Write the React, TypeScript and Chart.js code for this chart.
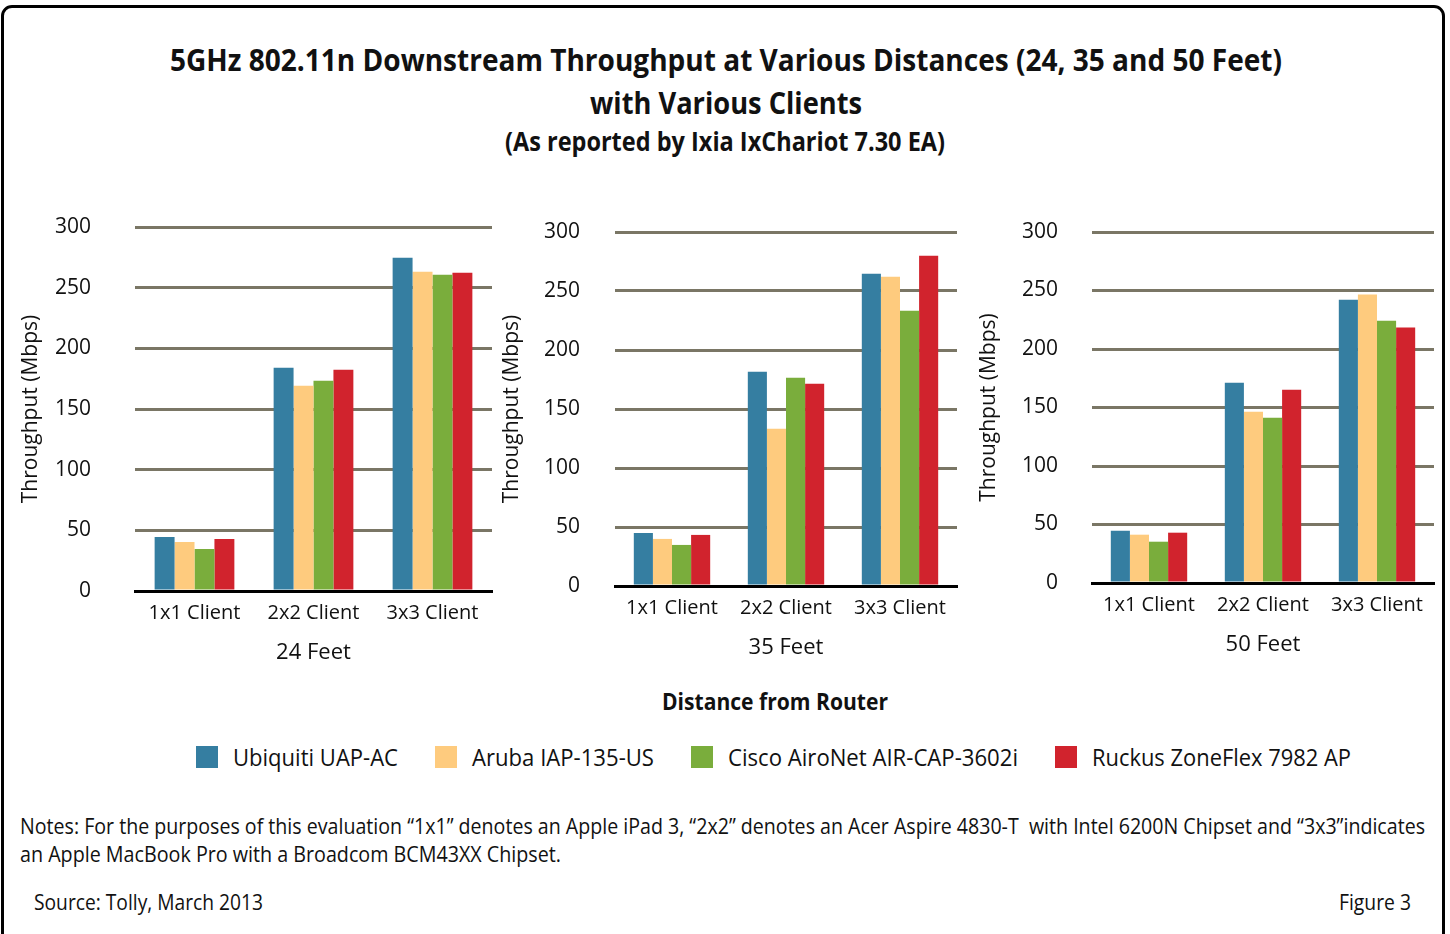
import React, { useEffect, useLayoutEffect, useRef } from "react";
import { Chart, registerables } from "chart.js";

Chart.register(...registerables);

// ---------- data ----------
const categories = ["1x1 Client", "2x2 Client", "3x3 Client"];
const seriesNames = ["Ubiquiti UAP-AC", "Aruba IAP-135-US", "Cisco AiroNet AIR-CAP-3602i", "Ruckus ZoneFlex 7982 AP"];
const seriesColors = ["#357ea1", "#fecb7e", "#7aad3c", "#d1232d"];
const yTicks = [0, 50, 100, 150, 200, 250, 300];

const ubiquiti24 = [44.5, 183.9, 274.7];
const aruba24 = [40.4, 169.1, 263.1];
const cisco24 = [34.6, 173.2, 260.6];
const ruckus24 = [42.9, 182.3, 262.3];

const ubiquiti35 = [44.9, 181.5, 264.6];
const aruba35 = [39.9, 133.2, 262.1];
const cisco35 = [34.8, 176.4, 233.3];
const ruckus35 = [43.3, 171.3, 279.9];

const ubiquiti50 = [44.7, 171.2, 242.2];
const aruba50 = [41.3, 146.4, 246.5];
const cisco50 = [35.3, 141.3, 224.2];
const ruckus50 = [43.0, 165.2, 218.3];

const FONT = "'Open Sans', 'Noto Sans', sans-serif";
const TEXT = "#111";

type PanelProps = {
  values: number[][];
  xTitle: string;
  x0: number; x1: number; yTop: number; yBottom: number;
  titleCenterY: number;
  tickPad: number;
  yTitlePad: number;
  labelPad: number;
};

function Panel(p: PanelProps) {
  const ref = useRef<HTMLCanvasElement>(null);
  const left = p.x0 - 125;
  const top = p.yTop - 30;
  const right = p.x1 + 12;
  const bottom = Math.round(p.titleCenterY + 13.2);
  const width = right - left;
  const height = bottom - top;
  useEffect(() => {
    if (!ref.current) return;
    const chart = new Chart(ref.current, {
      type: "bar",
      data: {
        labels: categories,
        datasets: p.values.map((v, i) => ({
          label: seriesNames[i],
          data: v,
          backgroundColor: seriesColors[i],
          borderWidth: 0,
          barPercentage: 1,
          categoryPercentage: 0.67,
        })),
      },
      options: {
        animation: false,
        responsive: false,
        maintainAspectRatio: false,
        layout: { padding: { top: 30, right: 12, left: 0, bottom: 0 } },
        plugins: { legend: { display: false }, tooltip: { enabled: false }, title: { display: false } },
        scales: {
          x: {
            grid: { display: false, drawTicks: false },
            border: { display: true, color: "#000", width: 3 },
            ticks: { color: TEXT, font: { family: FONT, size: 20 }, padding: p.labelPad, maxRotation: 0 },
            title: { display: true, text: p.xTitle, color: TEXT, font: { family: FONT, size: 22 }, padding: 0 },
            afterFit: (s: any) => { s.height = bottom - p.yBottom; s.paddingLeft = 0; s.paddingRight = 0; },
          },
          y: {
            min: 0, max: 300,
            afterBuildTicks: (s: any) => { s.ticks = yTicks.map((v) => ({ value: v })); },
            grid: { color: "#7a7665", lineWidth: 3, drawTicks: false },
            border: { display: false },
            ticks: { color: TEXT, font: { family: FONT, size: 21 }, padding: p.tickPad },
            title: { display: true, text: "Throughput (Mbps)", color: TEXT, font: { family: FONT, size: 21 }, padding: { top: p.yTitlePad, bottom: 0 } },
            afterFit: (s: any) => { s.width = 125; s.paddingTop = 14; s.paddingBottom = 14; },
          },
        },
      },
    } as any);
    return () => chart.destroy();
  }, []);
  return (
    <canvas ref={ref} width={width} height={height}
      style={{ position: "absolute", left, top, width, height }} />
  );
}

type FitProps = { text: string; x: number; y: number; w: number; size: number; weight?: number };

function FitText({ text, x, y, w, size, weight = 400 }: FitProps) {
  const ref = useRef<HTMLSpanElement>(null);
  useLayoutEffect(() => {
    const fit = () => {
      const el = ref.current;
      if (!el) return;
      el.style.transform = "translateY(-50%)";
      const nat = el.getBoundingClientRect().width;
      const s = nat > 0 ? w / nat : 1;
      el.style.transform = `translateY(-50%) scaleX(${s})`;
    };
    fit();
    if ((document as any).fonts) (document as any).fonts.ready.then(fit);
  }, [text, w, size]);
  return (
    <span ref={ref} style={{
      position: "absolute", left: x, top: y, whiteSpace: "pre", fontFamily: FONT,
      fontSize: size, fontWeight: weight, lineHeight: 1, color: TEXT, transformOrigin: "0 50%",
    }}>{text}</span>
  );
}

const legendX = [196, 435, 691, 1055];
const legendTextW = [165, 182, 290, 259];

export default function App() {
  return (
    <div style={{ position: "absolute", left: 0, top: 0, width: 1450, height: 934, overflow: "hidden", background: "#fff" }}>
      <div style={{ position: "absolute", left: 1, top: 5, width: 1444, height: 1000, border: "3px solid #000", borderRadius: 11, boxSizing: "border-box" }} />
      <FitText text="5GHz 802.11n Downstream Throughput at Various Distances (24, 35 and 50 Feet)" x={170} y={59} w={1112} size={31} weight={700} />
      <FitText text="with Various Clients" x={590} y={102} w={272} size={31} weight={700} />
      <FitText text="(As reported by Ixia IxChariot 7.30 EA)" x={505} y={140} w={440} size={27} weight={700} />

      <Panel values={[ubiquiti24, aruba24, cisco24, ruckus24]} xTitle="24 Feet"
        x0={135} x1={492} yTop={227} yBottom={591} titleCenterY={653} tickPad={44} yTitlePad={8} labelPad={10} />
      <Panel values={[ubiquiti35, aruba35, cisco35, ruckus35]} xTitle="35 Feet"
        x0={615} x1={957} yTop={232} yBottom={586} titleCenterY={648} tickPad={35} yTitlePad={9} labelPad={10} />
      <Panel values={[ubiquiti50, aruba50, cisco50, ruckus50]} xTitle="50 Feet"
        x0={1092} x1={1434} yTop={232} yBottom={583} titleCenterY={645} tickPad={34} yTitlePad={9} labelPad={10} />

      <FitText text="Distance from Router" x={662} y={701} w={226} size={24} weight={700} />

      {seriesNames.map((n, i) => (
        <React.Fragment key={n}>
          <div style={{ position: "absolute", left: legendX[i], top: 746, width: 22, height: 22, background: seriesColors[i] }} />
          <FitText text={n} x={legendX[i] + 37} y={757} w={legendTextW[i]} size={23} />
        </React.Fragment>
      ))}

      <FitText text={"Notes: For the purposes of this evaluation \u201c1x1\u201d denotes an Apple iPad 3, \u201c2x2\u201d denotes an Acer Aspire 4830-T  with Intel 6200N Chipset and \u201c3x3\u201dindicates"} x={20} y={826} w={1405} size={21} />
      <FitText text="an Apple MacBook Pro with a Broadcom BCM43XX Chipset." x={20} y={854} w={541} size={21} />
      <FitText text="Source: Tolly, March 2013" x={34} y={902} w={229} size={21} />
      <FitText text="Figure 3" x={1339} y={902} w={72} size={21} />
    </div>
  );
}
